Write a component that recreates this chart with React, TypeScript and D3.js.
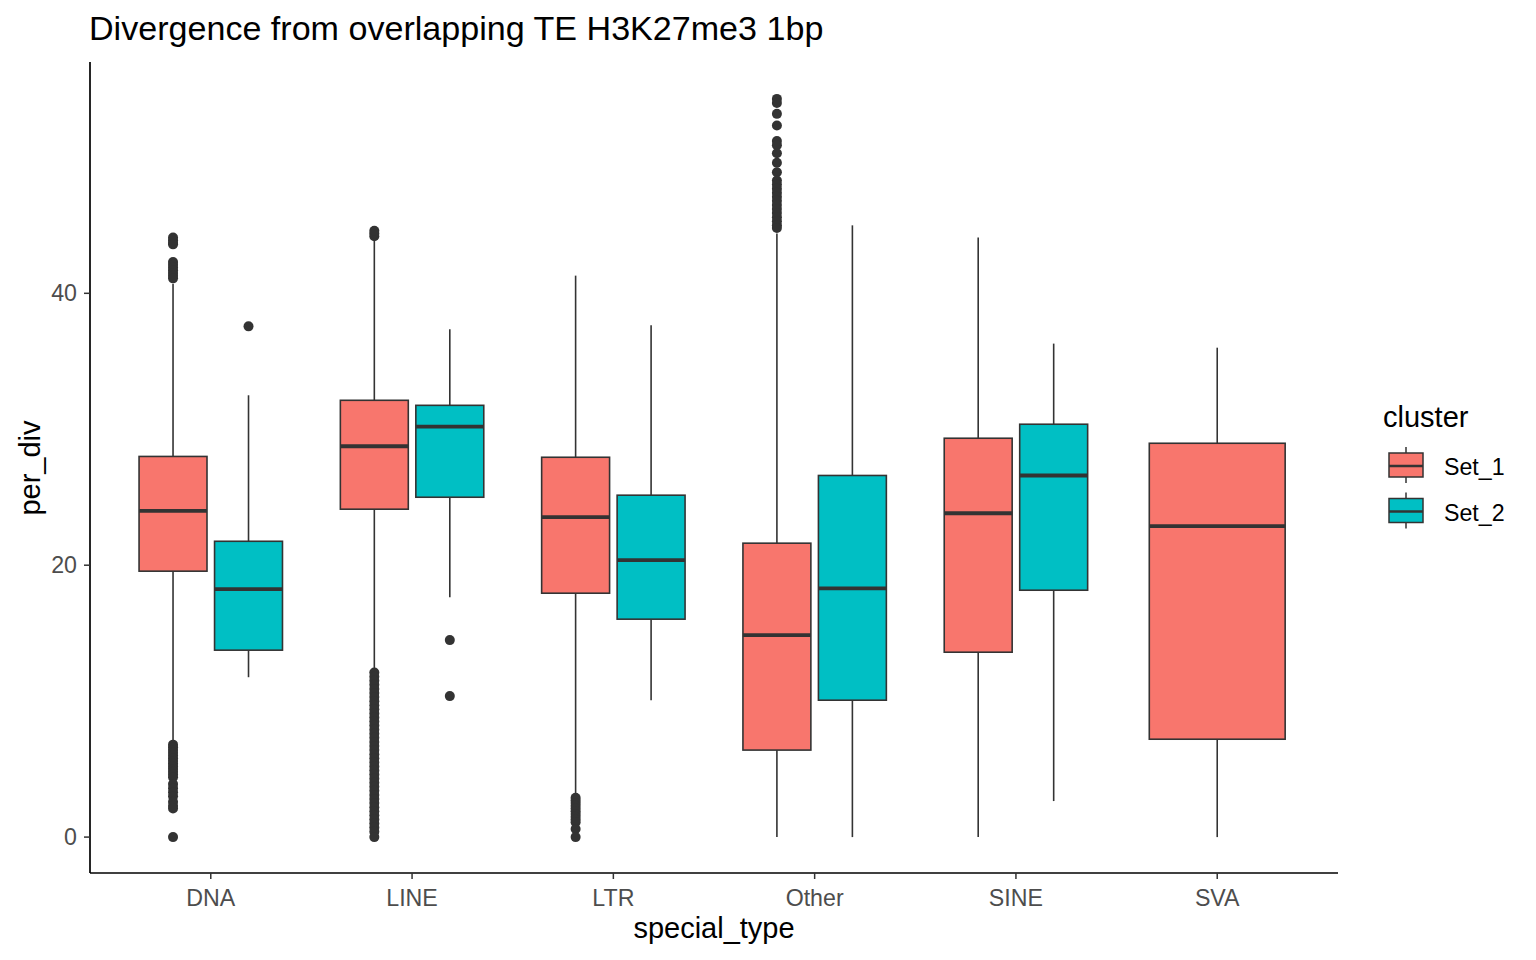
import * as d3 from 'd3';

// box stats per special_type: [lower whisker, q1, median, q3, upper whisker]
const types = ["DNA", "LINE", "LTR", "Other", "SINE", "SVA"];
const clusters = ["Set_1", "Set_2"];
const colors = ["#F8766D", "#00BFC4"];

const set1Stats = [
  [7.0, 19.56, 24.0, 28.0, 40.7],
  [12.3, 24.12, 28.75, 32.13, 43.9],
  [3.1, 17.94, 23.53, 27.94, 41.3],
  [0, 6.4, 14.85, 21.62, 44.4],
  [0, 13.6, 23.82, 29.34, 44.1],
  [0, 7.2, 22.87, 28.97, 36.0],
];
const set2Stats = [
  [11.76, 13.75, 18.24, 21.76, 32.5],
  [17.65, 25.0, 30.2, 31.76, 37.35],
  [10.07, 16.03, 20.37, 25.15, 37.65],
  [0, 10.07, 18.3, 26.6, 45.0],
  [2.65, 18.16, 26.6, 30.37, 36.3],
  null,
];

// outliers
const set1Outliers = [
  [44.1, 43.9, 43.7, 43.6, 42.3, 42.1, 41.9, 41.7, 41.5, 41.3, 41.1,
   6.8, 6.6, 6.4, 6.2, 6.0, 5.8, 5.6, 5.4, 5.2, 5.0, 4.8, 4.6, 4.4,
   3.9, 3.6, 3.3, 3.0, 2.6, 2.3, 2.1, 0],
  [44.2, 44.4, 44.6,
   12.1, 11.8, 11.5, 11.2, 10.9, 10.6, 10.3, 10.0, 9.7, 9.4, 9.1, 8.8, 8.5,
   8.2, 7.9, 7.6, 7.3, 7.0, 6.7, 6.4, 6.1, 5.8, 5.5, 5.2, 4.9, 4.6, 4.3,
   4.0, 3.7, 3.4, 3.1, 2.8, 2.5, 2.2, 1.9, 1.6, 1.3, 1.0, 0.7, 0.4, 0],
  [2.9, 2.7, 2.5, 2.3, 2.1, 1.9, 1.7, 1.5, 1.3, 1.1, 0.6, 0],
  [54.3, 54.0, 53.2, 52.35, 51.2, 50.9, 50.3, 49.6, 48.9, 48.3, 48.0, 47.7,
   47.4, 47.1, 46.8, 46.5, 46.2, 45.9, 45.6, 45.3, 45.0, 44.8],
  [],
  [],
];
const set2Outliers = [
  [37.57],
  [14.49, 10.37],
  [],
  [],
  [],
  [],
];

const yTicks = [0, 20, 40];

const W = 1536, H = 960;
const panel = { left: 90, right: 1338, top: 62, bottom: 874 };
const font = "'Liberation Sans', Arial, sans-serif";
const ink = "#333333";

export default function App() {
  const allVals = [
    ...set1Stats.flat(), ...set2Stats.flatMap(s => s ?? []),
    ...set1Outliers.flat(), ...set2Outliers.flat(),
  ];
  const [lo, hi] = d3.extent(allVals) as [number, number];
  const pad = (hi - lo) * 0.05;

  const y = d3.scaleLinear().domain([lo - pad, hi + pad]).range([panel.bottom, panel.top]);
  const x = d3.scalePoint<string>().domain(types).range([panel.left, panel.right]).padding(0.6);
  const step = x.step();

  const boxes: { cx: number; w: number; s: number[]; out: number[]; fill: string }[] = [];
  types.forEach((t, i) => {
    const s2 = set2Stats[i];
    if (s2) {
      const w = step * 0.75 * 0.9 / 2;
      boxes.push({ cx: x(t)! - step * 0.1875, w, s: set1Stats[i], out: set1Outliers[i], fill: colors[0] });
      boxes.push({ cx: x(t)! + step * 0.1875, w, s: s2, out: set2Outliers[i], fill: colors[1] });
    } else {
      boxes.push({ cx: x(t)!, w: step * 0.75 * 0.9, s: set1Stats[i], out: set1Outliers[i], fill: colors[0] });
    }
  });

  return (
    <svg width={W} height={H} style={{ position: 'absolute', left: 0, top: 0, background: '#fff' }}>
      <rect width={W} height={H} fill="#fff" />
      <text x={89} y={40} fontFamily={font} fontSize={34.1} fill="#000">
        Divergence from overlapping TE H3K27me3 1bp
      </text>

      {boxes.map((b, i) => (
        <g key={i}>
          <line x1={b.cx} x2={b.cx} y1={y(b.s[0])} y2={y(b.s[1])} stroke={ink} strokeWidth={1.6} />
          <line x1={b.cx} x2={b.cx} y1={y(b.s[3])} y2={y(b.s[4])} stroke={ink} strokeWidth={1.6} />
          <rect x={b.cx - b.w / 2} y={y(b.s[3])} width={b.w} height={y(b.s[1]) - y(b.s[3])}
            fill={b.fill} stroke={ink} strokeWidth={1.6} />
          <line x1={b.cx - b.w / 2} x2={b.cx + b.w / 2} y1={y(b.s[2])} y2={y(b.s[2])} stroke={ink} strokeWidth={3.8} />
          {b.out.map((v, j) => (
            <circle key={j} cx={b.cx} cy={y(v)} r={5} fill={ink} />
          ))}
        </g>
      ))}

      {/* axes */}
      <line x1={panel.left} x2={panel.left} y1={panel.top} y2={panel.bottom - 1} stroke="#000" strokeWidth={1.7} />
      <line x1={panel.left} x2={panel.right} y1={panel.bottom - 1} y2={panel.bottom - 1} stroke="#000" strokeWidth={1.7} />
      {yTicks.map(t => (
        <g key={t}>
          <line x1={panel.left - 6} x2={panel.left} y1={y(t)} y2={y(t)} stroke={ink} strokeWidth={1.5} />
          <text x={77} y={y(t) + 8} textAnchor="end" fontFamily={font} fontSize={23.2} fill="#4D4D4D">{t}</text>
        </g>
      ))}
      {types.map(t => (
        <g key={t}>
          <line x1={x(t)} x2={x(t)} y1={panel.bottom - 1} y2={panel.bottom + 5} stroke={ink} strokeWidth={1.5} />
          <text x={x(t)} y={906} textAnchor="middle" fontFamily={font} fontSize={23.2} fill="#4D4D4D">{t}</text>
        </g>
      ))}
      <text x={(panel.left + panel.right) / 2} y={938} textAnchor="middle" fontFamily={font} fontSize={29} fill="#000">special_type</text>
      <text transform={`translate(40,${(panel.top + panel.bottom) / 2}) rotate(-90)`} textAnchor="middle"
        fontFamily={font} fontSize={29} fill="#000">per_div</text>

      {/* legend */}
      <text x={1383} y={427} fontFamily={font} fontSize={29} fill="#000">cluster</text>
      {clusters.map((c, i) => {
        const cy = 466 + i * 45.5;
        return (
          <g key={c}>
            <line x1={1406} x2={1406} y1={cy - 19} y2={cy + 17} stroke={ink} strokeWidth={1.5} />
            <rect x={1389} y={cy - 13} width={34} height={24} fill={colors[i]} stroke={ink} strokeWidth={1.5} />
            <line x1={1389} x2={1423} y1={cy} y2={cy} stroke={ink} strokeWidth={2.5} />
            <text x={1444} y={cy + 9} fontFamily={font} fontSize={23.2} fill="#000">{c}</text>
          </g>
        );
      })}
    </svg>
  );
}
